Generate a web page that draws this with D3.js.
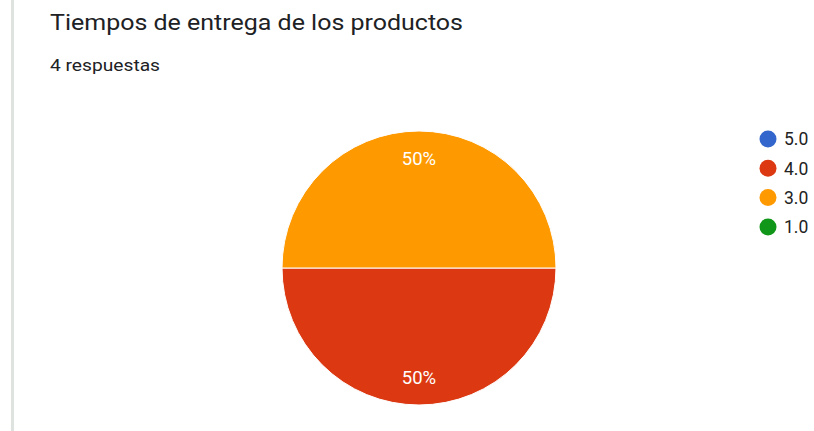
<!DOCTYPE html>
<html>
<head>
<meta charset="utf-8">
<script src="https://cdn.jsdelivr.net/npm/d3@7"></script>
<style>
  html, body { margin: 0; padding: 0; background: #fff; }
  svg { display: block; }
</style>
</head>
<body>
<svg id="chart" width="814" height="431"></svg>
<script>
// Response counts per rating
const categories = ["5.0", "4.0", "3.0", "1.0"];
const counts = [0, 2, 2, 0];
const colors = ["#3366cc", "#dc3912", "#ff9900", "#109618"];
const title = "Tiempos de entrega de los productos";
const subtitle = "4 respuestas";

const svg = d3.select("#chart");
const font = "Roboto, 'Noto Sans', Arial, sans-serif";

// card left border
svg.append("rect")
  .attr("x", 11).attr("y", 0)
  .attr("width", 3).attr("height", 431)
  .attr("fill", "#dfe3e0");

svg.append("text")
  .attr("x", 50).attr("y", 30)
  .attr("font-family", font)
  .attr("font-size", 22.5)
  .attr("fill", "#202124")
  .attr("textLength", 413)
  .attr("lengthAdjust", "spacingAndGlyphs")
  .text(title);

svg.append("text")
  .attr("x", 50).attr("y", 71)
  .attr("font-family", font)
  .attr("font-size", 16)
  .attr("fill", "#202124")
  .attr("textLength", 110)
  .attr("lengthAdjust", "spacingAndGlyphs")
  .text(subtitle);

const data = categories.map((c, i) => ({ label: c, value: counts[i], color: colors[i] }));
const total = d3.sum(counts);

const cx = 419, cy = 268, r = 137;

// slices run clockwise starting at 3 o'clock
const pie = d3.pie()
  .value(d => d.value)
  .sort(null)
  .startAngle(Math.PI / 2)
  .endAngle(Math.PI / 2 + 2 * Math.PI);

const arc = d3.arc().innerRadius(0).outerRadius(r);
const labelArc = d3.arc().innerRadius(r * 0.8).outerRadius(r * 0.8);

const g = svg.append("g").attr("transform", `translate(${cx},${cy})`);
const arcs = pie(data).filter(d => d.data.value > 0);

g.selectAll("path.slice")
  .data(arcs)
  .join("path")
  .attr("class", "slice")
  .attr("d", arc)
  .attr("fill", d => d.data.color)
  .attr("stroke", "#fff")
  .attr("stroke-width", 1);

g.selectAll("text.pct")
  .data(arcs)
  .join("text")
  .attr("class", "pct")
  .attr("transform", d => `translate(${labelArc.centroid(d)})`)
  .attr("text-anchor", "middle")
  .attr("dy", "0.36em")
  .attr("font-family", font)
  .attr("font-size", 18.5)
  .attr("fill", "#fff")
  .text(d => Math.round(d.data.value / total * 100) + "%");

// legend
const legend = svg.append("g").attr("transform", "translate(768,139)");
const item = legend.selectAll("g.item")
  .data(data)
  .join("g")
  .attr("class", "item")
  .attr("transform", (d, i) => `translate(0,${i * 29.3})`);

item.append("circle")
  .attr("r", 8.5)
  .attr("fill", d => d.color);

item.append("text")
  .attr("x", 16)
  .attr("dy", "0.36em")
  .attr("font-family", font)
  .attr("font-size", 17.5)
  .attr("fill", "#222")
  .text(d => d.label);
</script>
</body>
</html>
